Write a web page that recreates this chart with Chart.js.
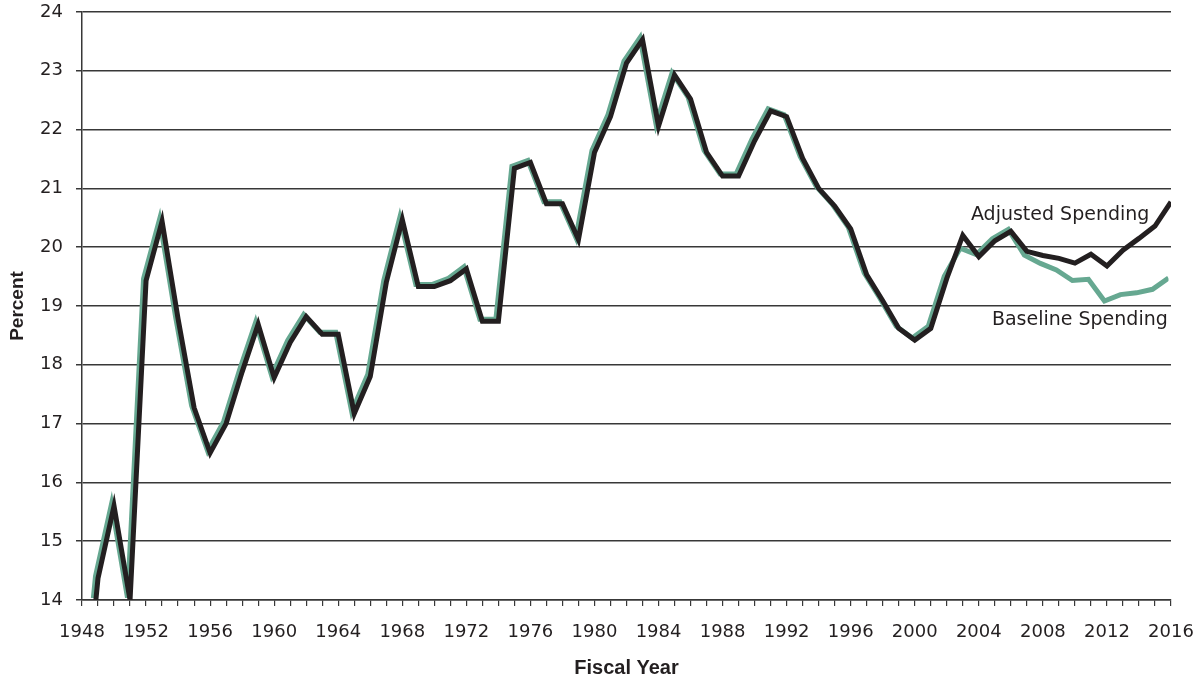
<!DOCTYPE html>
<html>
<head>
<meta charset="utf-8">
<script src="https://cdn.jsdelivr.net/npm/chart.js@4.4.1/dist/chart.umd.min.js"></script>
<style>
  body { margin: 0; background: #fff; }
  canvas { display: block; }
</style>
</head>
<body>
<canvas id="myChart" width="1200" height="683"></canvas>
<script>
// Fiscal years shown on the chart
const years = [
  1948, 1949, 1950, 1951, 1952, 1953, 1954, 1955, 1956, 1957,
  1958, 1959, 1960, 1961, 1962, 1963, 1964, 1965, 1966, 1967,
  1968, 1969, 1970, 1971, 1972, 1973, 1974, 1975, 1976, 1977,
  1978, 1979, 1980, 1981, 1982, 1983, 1984, 1985, 1986, 1987,
  1988, 1989, 1990, 1991, 1992, 1993, 1994, 1995, 1996, 1997,
  1998, 1999, 2000, 2001, 2002, 2003, 2004, 2005, 2006, 2007,
  2008, 2009, 2010, 2011, 2012, 2013, 2014, 2015, 2016
];

// Spending as percent of GDP
const adjustedSpending = [
  11.6, 14.37, 15.6, 14.0, 19.43, 20.44, 18.78, 17.27, 16.5, 17.0,
  17.88, 18.69, 17.78, 18.38, 18.82, 18.52, 18.52, 17.17, 17.8, 19.4,
  20.47, 19.33, 19.33, 19.43, 19.63, 18.74, 18.74, 21.34, 21.44, 20.74,
  20.74, 20.13, 21.61, 22.22, 23.13, 23.53, 22.06, 22.93, 22.52, 21.61,
  21.21, 21.21, 21.81, 22.32, 22.22, 21.51, 21.0, 20.7, 20.31, 19.53,
  19.09, 18.62, 18.42, 18.62, 19.47, 20.2, 19.84, 20.11, 20.27, 19.93,
  19.86, 19.81, 19.73, 19.88, 19.68, 19.95, 20.15, 20.36, 20.77
];

const baselineSpending = [
  11.6, 14.37, 15.6, 14.0, 19.43, 20.44, 18.78, 17.27, 16.5, 17.0,
  17.88, 18.69, 17.78, 18.38, 18.82, 18.52, 18.52, 17.17, 17.8, 19.4,
  20.47, 19.33, 19.33, 19.43, 19.63, 18.74, 18.74, 21.34, 21.44, 20.74,
  20.74, 20.13, 21.61, 22.22, 23.13, 23.53, 22.06, 22.93, 22.52, 21.61,
  21.21, 21.21, 21.81, 22.32, 22.22, 21.51, 21.0, 20.7, 20.31, 19.53,
  19.09, 18.62, 18.42, 18.62, 19.47, 19.95, 19.84, 20.11, 20.27, 19.83,
  19.69, 19.58, 19.4, 19.42, 19.05, 19.16, 19.19, 19.25, 19.44
];

// Line labels: text, year, value (right edge of the text)
const lineLabels = [
  { text: "Adjusted Spending", year: 2014.65, value: 20.55 },
  { text: "Baseline Spending", year: 2015.8, value: 18.76 }
];

const textColor = "#231f20";
const gridColor = "#383838";

function toPoints(values) {
  return years.map((y, i) => ({ x: y, y: values[i] }));
}

// the green line sits slightly up and left of the black one, like a shadow
const shadowPlugin = {
  id: "shadow",
  beforeDatasetDraw(chart, args) {
    if (args.index === 1) {
      chart.ctx.save();
      chart.ctx.translate(-2.5, -2);
    }
  },
  afterDatasetDraw(chart, args) {
    if (args.index === 1) {
      chart.ctx.restore();
    }
  }
};

const lineLabelPlugin = {
  id: "lineLabels",
  afterDatasetsDraw(chart) {
    const ctx = chart.ctx;
    const xs = chart.scales.x;
    const ys = chart.scales.y;
    ctx.save();
    ctx.font = "19px 'DejaVu Sans'";
    ctx.fillStyle = textColor;
    ctx.textAlign = "right";
    ctx.textBaseline = "middle";
    lineLabels.forEach((l) => {
      ctx.fillText(l.text, xs.getPixelForValue(l.year), ys.getPixelForValue(l.value));
    });
    ctx.restore();
  }
};

const ctx = document.getElementById("myChart").getContext("2d");
new Chart(ctx, {
  type: "line",
  data: {
    datasets: [
      {
        label: "Adjusted Spending",
        data: toPoints(adjustedSpending),
        borderColor: "#231f20",
        borderWidth: 5,
        pointRadius: 0,
        tension: 0,
        fill: false
      },
      {
        label: "Baseline Spending",
        data: toPoints(baselineSpending),
        borderColor: "#66a891",
        borderWidth: 5,
        pointRadius: 0,
        tension: 0,
        fill: false
      }
    ]
  },
  options: {
    responsive: false,
    animation: false,
    devicePixelRatio: 1,
    layout: {
      padding: { left: 0, right: 29, top: 12, bottom: 0 }
    },
    plugins: {
      legend: { display: false },
      tooltip: { enabled: false }
    },
    scales: {
      x: {
        type: "linear",
        min: 1948,
        max: 2016,
        afterFit: (s) => {
          s.height = 83;
          s.paddingLeft = 0;
          s.paddingRight = 0;
        },
        border: { display: true, color: gridColor, width: 1.5 },
        grid: {
          drawOnChartArea: false,
          drawTicks: true,
          tickLength: 6,
          color: gridColor,
          lineWidth: 1.2
        },
        ticks: {
          stepSize: 1,
          autoSkip: false,
          maxRotation: 0,
          padding: 16,
          color: textColor,
          font: { family: "'DejaVu Sans'", size: 18 },
          callback: (v) => ((v - 1948) % 4 === 0 ? String(v) : "")
        },
        title: {
          display: true,
          text: "Fiscal Year",
          color: textColor,
          font: { family: "'Liberation Sans'", size: 20, weight: "bold" },
          padding: { top: 0, bottom: 3 }
        }
      },
      y: {
        min: 14,
        max: 24,
        afterFit: (s) => {
          s.width = 82;
          s.paddingTop = 0;
          s.paddingBottom = 0;
        },
        border: { display: true, color: gridColor, width: 1.5 },
        grid: {
          drawTicks: true,
          tickLength: 6,
          color: gridColor,
          lineWidth: 1.5
        },
        ticks: {
          stepSize: 1,
          padding: 13,
          color: textColor,
          font: { family: "'DejaVu Sans'", size: 18 }
        },
        title: {
          display: true,
          text: "Percent",
          color: textColor,
          font: { family: "'Liberation Sans'", size: 19, weight: "bold" },
          padding: { top: 6, bottom: 0 }
        }
      }
    }
  },
  plugins: [shadowPlugin, lineLabelPlugin]
});
</script>
</body>
</html>
